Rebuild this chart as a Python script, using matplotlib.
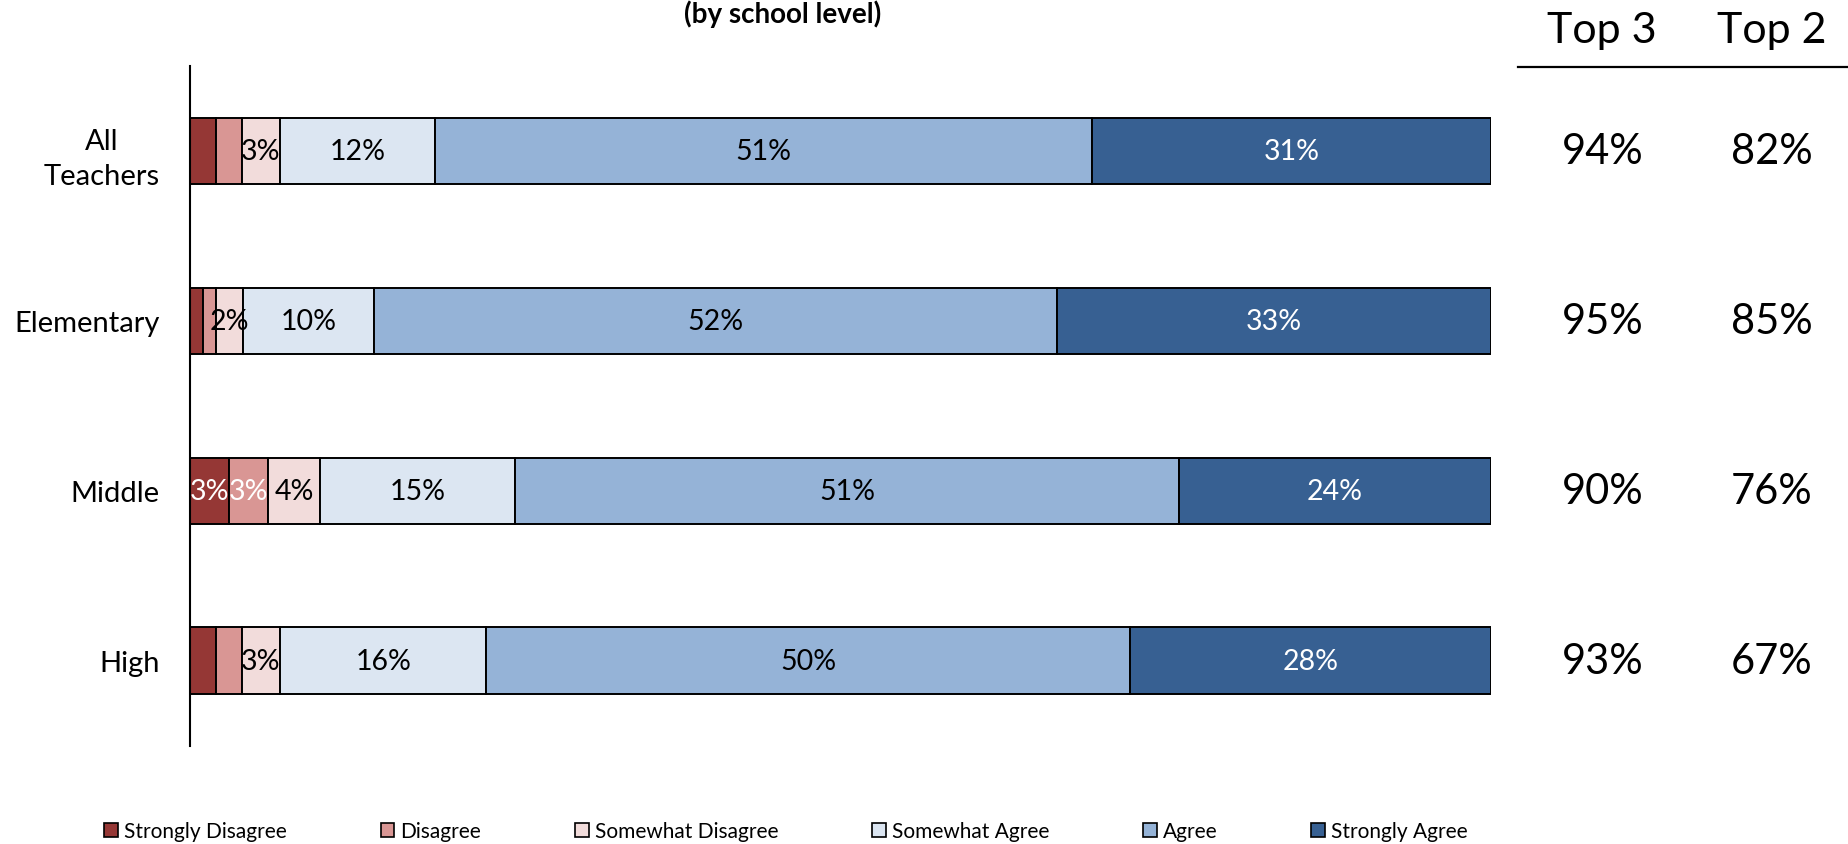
import matplotlib
matplotlib.use('Agg')
import numpy as np
import matplotlib.transforms as mtransforms
from matplotlib import pyplot as plt
from matplotlib.patches import Patch

plt.rcParams['font.family'] = ['Lato', 'DejaVu Sans']

# data
groups = ['All\nTeachers', 'Elementary', 'Middle', 'High']
responses = ['Strongly Disagree', 'Disagree', 'Somewhat Disagree', 'Somewhat Agree', 'Agree', 'Strongly Agree']
strongly_disagree = [2, 1, 3, 2]
disagree = [2, 1, 3, 2]
somewhat_disagree = [3, 2, 4, 3]
somewhat_agree = [12, 10, 15, 16]
agree = [51, 52, 51, 50]
strongly_agree = [31, 33, 24, 28]
top3 = ['94%', '95%', '90%', '93%']
top2 = ['82%', '85%', '76%', '67%']

colors = ['#953735', '#D99694', '#F2DCDB', '#DCE6F2', '#95B3D7', '#376092']
text_colors = ['white', 'white', 'black', 'black', 'black', 'white']

series = np.array([strongly_disagree, disagree, somewhat_disagree,
                   somewhat_agree, agree, strongly_agree], dtype=float)
totals = series.sum(axis=0)
shares = series / totals * 100  # 100% stacked

fig = plt.figure(figsize=(18.49, 8.45), dpi=100)
ax = fig.add_axes([0.1028, 0.116, 0.7036, 0.8047])

ypos = np.arange(len(groups))
left = np.zeros(len(groups))
for j, name in enumerate(responses):
    ax.barh(ypos, shares[j], left=left, height=0.394, color=colors[j],
            edgecolor='black', linewidth=1.4, label=name)
    for i in range(len(groups)):
        v = series[j, i]
        if v >= 3 or j >= 2:
            ax.text(left[i] + shares[j, i] / 2, ypos[i], '%d%%' % v, ha='center', va='center',
                    fontsize=20.5, color=text_colors[j])
    left += shares[j]

ax.set_xlim(0, 100)
ax.set_ylim(-0.5, len(groups) - 0.5)
ax.invert_yaxis()
ax.set_yticks(ypos)
ax.set_yticklabels(groups, fontsize=21, multialignment='center', linespacing=1.45)
ax.tick_params(axis='y', length=0, pad=22)
ax.set_xticks([])
for s in ['top', 'right', 'bottom']:
    ax.spines[s].set_visible(False)
ax.spines['left'].set_linewidth(1.5)

# Top 3 / Top 2 columns
trans = mtransforms.blended_transform_factory(fig.transFigure, ax.transData)
for i in range(len(groups)):
    ax.text(1603 / 1849, ypos[i], top3[i], transform=trans, ha='center', va='center',
            fontsize=30, clip_on=False)
    ax.text(1772 / 1849, ypos[i], top2[i], transform=trans, ha='center', va='center',
            fontsize=30, clip_on=False)
fig.text(1602 / 1849, 1 - 31 / 845, 'Top 3', ha='center', va='center', fontsize=31)
fig.text(1772 / 1849, 1 - 31 / 845, 'Top 2', ha='center', va='center', fontsize=31)
fig.add_artist(plt.Line2D([1518 / 1849, 1.0], [1 - 68 / 845, 1 - 68 / 845], color='black',
                          linewidth=1.6, transform=fig.transFigure))

# title at the top edge
fig.text(783 / 1849, 0.999, '(by school level)', ha='center', va='top',
         fontsize=20, fontweight='bold')

handles = [Patch(facecolor=c, edgecolor='black', linewidth=1.2) for c in colors]
fig.legend(handles, responses, loc='center', bbox_to_anchor=(786 / 1849, 1 - 832 / 845),
           ncol=6, frameon=False, fontsize=15, handlelength=0.65, handleheight=0.65,
           handletextpad=0.3, columnspacing=4.5, borderpad=0, borderaxespad=0)

fig.savefig('out.png', dpi=100)
